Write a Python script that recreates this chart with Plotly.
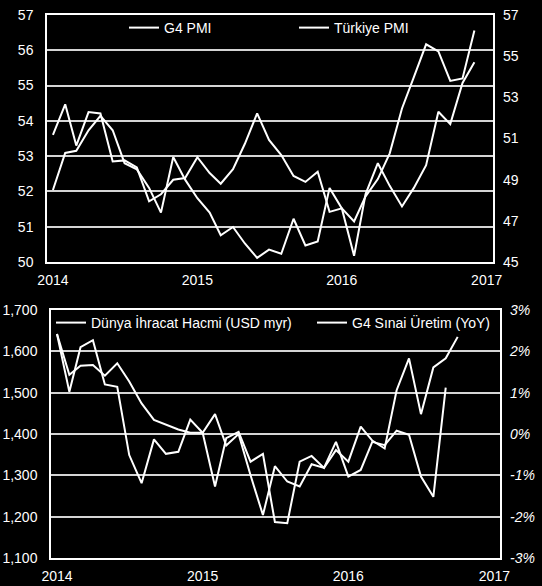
import plotly.graph_objects as go
import pandas as pd

# ---- data ----
months = pd.date_range("2014-01-01", periods=36, freq="MS")
year_ticks = ["2014-01-01", "2015-01-01", "2016-01-01", "2017-01-01"]
year_labels = ["2014", "2015", "2016", "2017"]

g4_pmi = [53.60, 54.47, 53.30, 54.25, 54.21, 52.85, 52.88, 52.68, 51.72, 51.92,
          52.33, 52.38, 52.97, 52.52, 52.22, 52.63, 53.35, 54.21, 53.46, 53.03,
          52.44, 52.27, 52.56, 51.42, 51.52, 51.15, 51.86, 52.35, 53.08, 54.35,
          55.24, 56.17, 55.97, 55.13, 55.20, 56.56]

turkiye_pmi = [48.5, 50.3, 50.4, 51.4, 52.1, 51.4, 49.8, 49.5, 48.6, 47.4,
               50.1, 49.0, 48.1, 47.4, 46.3, 46.7, 45.9, 45.2, 45.6, 45.4,
               47.1, 45.8, 46.0, 48.6, 47.6, 45.3, 48.3, 49.8, 48.7, 47.7,
               48.6, 49.7, 52.3, 51.7, 53.7, 54.7]

dunya_ihracat = [1642, 1502, 1610, 1627, 1520, 1514, 1349, 1281, 1387, 1352,
                 1357, 1435, 1403, 1273, 1390, 1405, 1333, 1352, 1187, 1184,
                 1333, 1347, 1318, 1381, 1297, 1313, 1381, 1373, 1408, 1398,
                 1297, 1248, 1512]

g4_sinai = [2.42, 1.43, 1.65, 1.67, 1.41, 1.71, 1.27, 0.74, 0.34, 0.22,
            0.11, 0.03, 0.03, 0.48, -0.28, 0.00, -1.00, -1.96, -0.78, -1.15,
            -1.27, -0.73, -0.82, -0.39, -0.67, 0.18, -0.16, -0.35, 1.06, 1.83,
            0.48, 1.61, 1.83, 2.35]

top_right_ticks = [45, 47, 49, 51, 53, 55, 57]
pct_vals = [-3, -2, -1, 0, 1, 2, 3]
pct_labels = ["-3%", "-2%", "-1%", "0%", "1%", "2%", "3%"]

# ---- figure ----
W, H = 542, 586
FONT = "Liberation Sans, Arial, sans-serif"


def px(x):
    return x / W


def py(y):
    return 1 - y / H


line_style = dict(color="white", width=2)

fig = go.Figure()
fig.add_trace(go.Scatter(x=months, y=g4_pmi, name="G4 PMI", mode="lines",
                         line=line_style, xaxis="x", yaxis="y", legend="legend"))
fig.add_trace(go.Scatter(x=months, y=turkiye_pmi, name="Türkiye PMI", mode="lines",
                         line=line_style, xaxis="x", yaxis="y2", legend="legend2"))
fig.add_trace(go.Scatter(x=months[:len(dunya_ihracat)], y=dunya_ihracat,
                         name="Dünya İhracat Hacmi (USD myr)", mode="lines",
                         line=line_style, xaxis="x2", yaxis="y3", legend="legend3"))
fig.add_trace(go.Scatter(x=months[:len(g4_sinai)], y=g4_sinai,
                         name="G4 Sınai Üretim (YoY)", mode="lines",
                         line=line_style, xaxis="x2", yaxis="y4", legend="legend4"))

tickfont = dict(family=FONT, size=14, color="white")
frame = dict(showline=True, linecolor="white", linewidth=1.5, mirror=True,
             zeroline=False, ticks="", automargin=False)
grid = dict(showgrid=True, gridcolor="#d4d4d4", gridwidth=1.6)


def legend_at(x, y):
    return dict(x=px(x), y=py(y), xanchor="left", yanchor="middle",
                bgcolor="rgba(0,0,0,0)", borderwidth=0,
                font=dict(family=FONT, size=14, color="white"),
                orientation="h")


fig.update_layout(
    width=W, height=H,
    margin=dict(l=0, r=0, t=0, b=0, autoexpand=False),
    paper_bgcolor="black", plot_bgcolor="black",
    font=dict(family=FONT, size=14, color="white"),
    showlegend=True,
    xaxis=dict(domain=[px(47), px(493)], anchor="y", type="date",
               range=["2013-12-17", "2017-01-17"],
               tickvals=year_ticks, ticktext=year_labels,
               showgrid=False, tickfont=tickfont, ticklabelstandoff=4, **frame),
    yaxis=dict(domain=[py(262), py(15)], anchor="x", range=[50, 57], dtick=1,
               tickfont=tickfont, ticklabelstandoff=9, **grid, **frame),
    yaxis2=dict(overlaying="y", side="right", anchor="x", range=[45, 57],
                tickvals=top_right_ticks, showgrid=False, zeroline=False,
                ticks="", tickfont=tickfont, ticklabelstandoff=9, automargin=False),
    xaxis2=dict(domain=[px(51), px(500)], anchor="y3", type="date",
                range=["2013-12-17", "2017-01-15"],
                tickvals=year_ticks, ticktext=year_labels,
                showgrid=False, tickfont=tickfont, ticklabelstandoff=4, **frame),
    yaxis3=dict(domain=[py(558), py(310)], anchor="x2", range=[1100, 1700],
                dtick=100, tickformat=",", tickfont=tickfont,
                ticklabelstandoff=9, **grid, **frame),
    yaxis4=dict(overlaying="y3", side="right", anchor="x2", range=[-3, 3],
                tickvals=pct_vals, ticktext=pct_labels, showgrid=False,
                zeroline=False, ticks="", automargin=False,
                tickfont=dict(family=FONT, size=14, color="white", style="italic"),
                ticklabelstandoff=9),
    legend=legend_at(124, 28),
    legend2=legend_at(294, 28),
    legend3=legend_at(51, 323),
    legend4=legend_at(312, 323),
)

fig.write_html(
    "out.html",
    config={"displayModeBar": False},
    post_script="document.body.style.margin='0';"
                "document.body.style.background='black';"
                "document.body.style.overflow='hidden';",
)
